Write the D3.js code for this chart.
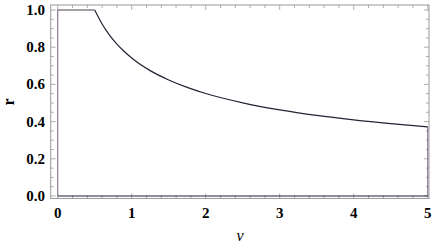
<!DOCTYPE html>
<html><head><meta charset="utf-8">
<script src="https://cdn.jsdelivr.net/npm/d3@7"></script>
<style>body{margin:0;background:#fff}</style>
</head><body>
<svg id="c" width="436" height="246"></svg>
<script>
const nu = [0, 0, 0.5, 0.6, 0.7, 0.8, 0.9, 1.0, 1.25, 1.5, 1.75, 2, 2.5, 3, 3.5, 4, 4.5, 5, 5];
const rVals = [0, 1, 1, 0.925, 0.865, 0.817, 0.777, 0.742, 0.674, 0.624, 0.584, 0.551, 0.501, 0.463, 0.433, 0.409, 0.389, 0.372, 0];
const xTicks = [0, 1, 2, 3, 4, 5];
const yTicks = [0, 0.2, 0.4, 0.6, 0.8, 1.0];

const svg = d3.select("#c");
const x = d3.scaleLinear().domain([0, 5]).range([57.7, 427.7]);
const y = d3.scaleLinear().domain([0, 1]).range([196, 10]);
const L = 50.7, R = 429, T = 5, B = 198.5;
const frameCol = "#9a9a9a";

svg.append("rect").attr("x", L).attr("y", T).attr("width", R - L).attr("height", B - T)
  .attr("fill", "none").attr("stroke", frameCol).attr("stroke-width", 1);

const xMinor = d3.range(0, 5.001, 0.2).filter(v => Math.abs(v - Math.round(v)) > 1e-6);
const yMinor = d3.range(0, 1.001, 0.05).filter(v => Math.abs(v * 5 - Math.round(v * 5)) > 1e-6);
const g = svg.append("g").attr("stroke", frameCol).attr("stroke-width", 0.8);
xTicks.forEach(v => {
  g.append("line").attr("x1", x(v)).attr("x2", x(v)).attr("y1", B).attr("y2", B - 5);
  g.append("line").attr("x1", x(v)).attr("x2", x(v)).attr("y1", T).attr("y2", T + 5);
});
xMinor.forEach(v => {
  g.append("line").attr("x1", x(v)).attr("x2", x(v)).attr("y1", B).attr("y2", B - 3);
  g.append("line").attr("x1", x(v)).attr("x2", x(v)).attr("y1", T).attr("y2", T + 3);
});
yTicks.forEach(v => {
  g.append("line").attr("x1", L).attr("x2", L + 5).attr("y1", y(v)).attr("y2", y(v));
  g.append("line").attr("x1", R).attr("x2", R - 5).attr("y1", y(v)).attr("y2", y(v));
});
yMinor.forEach(v => {
  g.append("line").attr("x1", L).attr("x2", L + 3).attr("y1", y(v)).attr("y2", y(v));
  g.append("line").attr("x1", R).attr("x2", R - 3).attr("y1", y(v)).attr("y2", y(v));
});

const font = "'Liberation Serif', 'Times New Roman', Times, 'DejaVu Serif', serif";
svg.append("g").selectAll("text").data(xTicks).join("text")
  .attr("x", d => x(d)).attr("y", 218).attr("text-anchor", "middle")
  .attr("font-family", font).attr("font-weight", "bold").attr("font-size", 15)
  .text(d => d3.format("d")(d));
svg.append("g").selectAll("text").data(yTicks).join("text")
  .attr("x", 45).attr("y", d => y(d) + 5).attr("text-anchor", "end")
  .attr("font-family", font).attr("font-weight", "bold").attr("font-size", 15)
  .text(d => d3.format(".1f")(d));

svg.append("text").attr("x", 240).attr("y", 241).attr("text-anchor", "middle")
  .attr("font-family", font).attr("font-style", "italic").attr("font-size", 16).text("ν");
svg.append("text").attr("transform", "translate(14,102) rotate(-90)").attr("text-anchor", "middle")
  .attr("font-family", font).attr("font-weight", "bold").attr("font-size", 16).text("r");

const pts = nu.map((v, i) => [v, rVals[i]]);
const line = d3.line().x(d => x(d[0])).y(d => y(d[1]));
svg.append("path").attr("d", line(pts.slice(0, 2))).attr("fill", "none").attr("stroke", "#8a7a92").attr("stroke-width", 1.2);
svg.append("path").attr("d", line(pts.slice(-2))).attr("fill", "none").attr("stroke", "#8a7a92").attr("stroke-width", 1.2);
svg.append("path").attr("d", line([pts[pts.length - 1], pts[0]])).attr("fill", "none").attr("stroke", "#2a1f33").attr("stroke-width", 1.2);
const curve = d3.line().x(d => x(d[0])).y(d => y(d[1])).curve(d3.curveMonotoneX);
svg.append("path").attr("d", line(pts.slice(1, 3))).attr("fill", "none").attr("stroke", "#4a4050").attr("stroke-width", 1.2);
svg.append("path").attr("d", curve(pts.slice(2, pts.length - 1))).attr("fill", "none").attr("stroke", "#2a1f33").attr("stroke-width", 1.2);
</script>
</body></html>
